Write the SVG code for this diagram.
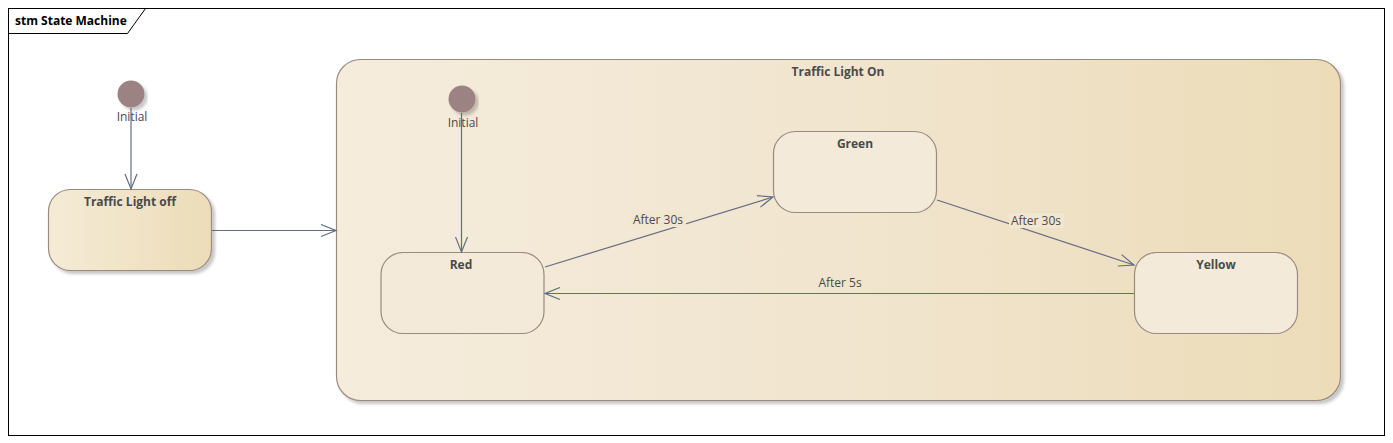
<svg xmlns="http://www.w3.org/2000/svg" width="1393" height="443" viewBox="0 0 1393 443">
<defs>
<linearGradient id="gOn" x1="0" y1="0" x2="1" y2="0">
<stop offset="0" stop-color="#f5ecdc"/><stop offset="0.5" stop-color="#f1e5cf"/><stop offset="1" stop-color="#ecdcb8"/>
</linearGradient>
<linearGradient id="gOff" x1="0" y1="0" x2="1" y2="0">
<stop offset="0" stop-color="#f5ebd6"/><stop offset="1" stop-color="#ecdcb8"/>
</linearGradient>
<marker id="arr" markerWidth="18" markerHeight="14" refX="16" refY="7" orient="auto" markerUnits="userSpaceOnUse">
<path d="M1,1 L16,7 L1,13" fill="none" stroke="#636d82" stroke-width="1.2"/>
</marker>
<filter id="sh" x="-5%" y="-5%" width="115%" height="120%">
<feDropShadow dx="3" dy="3" stdDeviation="1.5" flood-color="#000" flood-opacity="0.22"/>
</filter>
</defs>
<style>
text{font-family:"Open Sans","Noto Sans","Liberation Sans",sans-serif;fill:#4a4a4a;font-size:12px}
.b{font-weight:bold}
.st{fill:#f3eada;stroke:#9a8a80;stroke-width:1.2}
.ini{fill:#9c8282}
.c{fill:none;stroke:#636d82;stroke-width:1.2}
.lb{fill:#f1e6d0}
</style>
<rect x="0" y="0" width="1393" height="443" fill="#ffffff"/>
<g id="frame">
<rect x="8.5" y="8.5" width="1376" height="427" fill="none" stroke="#000" stroke-width="1"/>
<path d="M8.5,33.5 L127.5,33.5 L145.5,8.5" fill="none" stroke="#000" stroke-width="1"/>
<text x="15" y="25" class="b" style="fill:#000">stm State Machine</text>
</g>
<g id="initial1">
<circle cx="131" cy="94" r="13.5" class="ini" filter="url(#sh)"/>
<text x="132" y="121" text-anchor="middle">Initial</text>
</g>
<g id="trafficLightOff">
<rect x="48.5" y="189.5" width="163" height="81" rx="22" fill="url(#gOff)" stroke="#9a8a80" stroke-width="1.2" filter="url(#sh)"/>
<text x="130" y="206" text-anchor="middle" class="b">Traffic Light off</text>
</g>
<g id="trafficLightOn">
<rect x="336.5" y="59.5" width="1004" height="341" rx="24" fill="url(#gOn)" stroke="#9a8a80" stroke-width="1.2" filter="url(#sh)"/>
<text x="838" y="76" text-anchor="middle" class="b">Traffic Light On</text>
</g>
<g id="initial2">
<circle cx="462" cy="99" r="13.5" class="ini" filter="url(#sh)"/>
<text x="463" y="127" text-anchor="middle">Initial</text>
</g>
<g id="red">
<rect x="381" y="252.5" width="163" height="81" rx="22" class="st"/>
<text x="461" y="269" text-anchor="middle" class="b">Red</text>
</g>
<g id="green">
<rect x="773.5" y="131.5" width="163" height="81" rx="22" class="st"/>
<text x="855" y="148" text-anchor="middle" class="b">Green</text>
</g>
<g id="yellow">
<rect x="1134.5" y="252.5" width="163" height="81" rx="22" class="st"/>
<text x="1216" y="269" text-anchor="middle" class="b">Yellow</text>
</g>
<g id="connectors">
<line x1="131" y1="108" x2="131" y2="189" class="c" marker-end="url(#arr)"/>
<line x1="212" y1="230.5" x2="336" y2="230.5" class="c" marker-end="url(#arr)"/>
<line x1="461.5" y1="113" x2="461.5" y2="252" class="c" marker-end="url(#arr)"/>
<line x1="545" y1="267" x2="773" y2="197" class="c" marker-end="url(#arr)"/>
<line x1="937" y1="200" x2="1134" y2="265" class="c" marker-end="url(#arr)"/>
<line x1="1134" y1="293.5" x2="545" y2="293.5" class="c" marker-end="url(#arr)"/>
<rect x="631" y="212" width="55" height="15" class="lb"/>
<text x="658" y="224" text-anchor="middle">After 30s</text>
<rect x="1009" y="213" width="55" height="15" class="lb"/>
<text x="1036" y="225" text-anchor="middle">After 30s</text>
<text x="840" y="287" text-anchor="middle">After 5s</text>
</g>
</svg>
